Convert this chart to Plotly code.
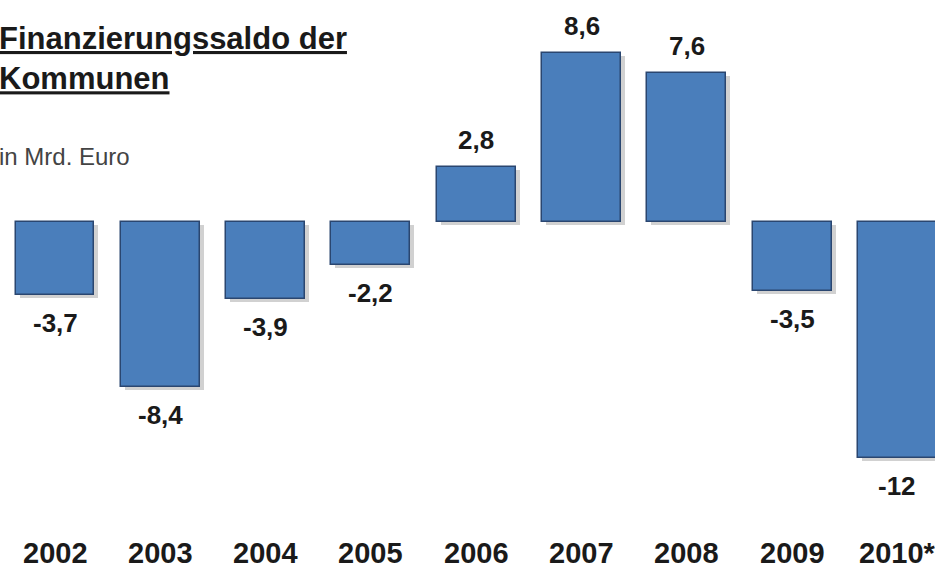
import plotly.graph_objects as go

years = ["2002", "2003", "2004", "2005", "2006", "2007", "2008", "2009", "2010*"]
values = [-3.7, -8.4, -3.9, -2.2, 2.8, 8.6, 7.6, -3.5, -12]
labels = ["-3,7", "-8,4", "-3,9", "-2,2", "2,8", "8,6", "7,6", "-3,5", "-12"]

title_lines = ["Finanzierungssaldo der", "Kommunen"]
unit_text = "in Mrd. Euro"

W, H = 935, 574
FONT = "Liberation Sans, Arial, sans-serif"

xs = list(range(len(years)))
px_per_unit = 19.65
shadow_dy = 3 / px_per_unit
shadow_dx = 4 / 105.3

fig = go.Figure()
# soft shadow
fig.add_trace(go.Bar(
    x=[x + shadow_dx for x in xs], y=values, base=[-shadow_dy] * len(values),
    width=0.75, marker=dict(color="rgba(0,0,0,0.18)", line=dict(width=0)),
    hoverinfo="skip", showlegend=False,
))
fig.add_trace(go.Bar(
    x=xs, y=values, width=0.75,
    marker=dict(color="#4a7ebb", line=dict(color="#2a4670", width=1.5)),
    showlegend=False,
))

annotations = []
for x, v, t in zip(xs, values, labels):
    annotations.append(dict(
        x=x, y=v, xref="x", yref="y", text=f"<b>{t}</b>", showarrow=False,
        yanchor="middle", yshift=27 if v > 0 else -28,
        font=dict(family=FONT, size=26, color="#1a1a1a"),
    ))
for x, yr in zip(xs, years):
    annotations.append(dict(
        x=x, y=1 - 553 / H, xref="x", yref="paper", text=f"<b>{yr}</b>",
        showarrow=False, yanchor="middle",
        font=dict(family=FONT, size=29, color="#1a1a1a"),
    ))
annotations.append(dict(
    x=0, y=1 - 58 / H, xref="paper", yref="paper", xanchor="left", yanchor="middle",
    xshift=-3,
    text="<b>" + "<br>".join(f"<u>{ln}</u>" for ln in title_lines) + "</b>",
    showarrow=False, align="left",
    font=dict(family=FONT, size=31, color="#1a1a1a"),
))
annotations.append(dict(
    x=0, y=1 - 157 / H, xref="paper", yref="paper", xanchor="left", yanchor="middle",
    xshift=-3,
    text=unit_text, showarrow=False, align="left",
    font=dict(family=FONT, size=24, color="#444444"),
))

y_top = 222 / px_per_unit
y_bot = -(H - 222) / px_per_unit
fig.update_layout(
    width=W, height=H, margin=dict(l=0, r=0, t=0, b=0),
    paper_bgcolor="white", plot_bgcolor="white",
    barmode="overlay", bargap=0,
    xaxis=dict(range=[-55 / 105.3, (W - 55) / 105.3], visible=False, fixedrange=True),
    yaxis=dict(range=[y_bot, y_top], visible=False, fixedrange=True),
    annotations=annotations,
)

fig.write_html("out.html", config={"displayModeBar": False},
               post_script="document.body.style.margin='0';")
